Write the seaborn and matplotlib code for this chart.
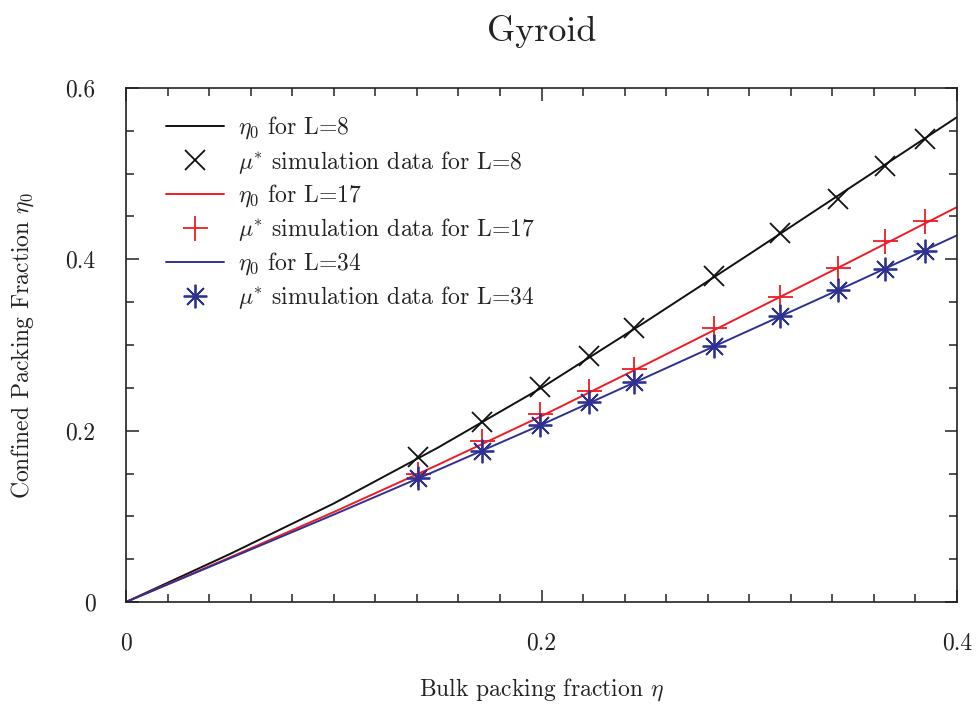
import matplotlib
matplotlib.use("Agg")
import matplotlib.pyplot as plt
from matplotlib.ticker import FixedLocator, MultipleLocator, FixedFormatter
import seaborn as sns
import pandas as pd

# Model curves eta_0(eta) for the three cell sizes
eta_curve = [0.0, 0.05, 0.10, 0.15, 0.20, 0.25, 0.30, 0.35, 0.40]
eta0_L8 = [0.0, 0.056, 0.115, 0.180, 0.250, 0.327, 0.406, 0.486, 0.566]
eta0_L17 = [0.0, 0.052, 0.105, 0.160, 0.217, 0.277, 0.338, 0.399, 0.461]
eta0_L34 = [0.0, 0.051, 0.102, 0.154, 0.207, 0.262, 0.317, 0.372, 0.428]

# mu* simulation data
eta_sim = [0.1406, 0.1714, 0.1993, 0.2229, 0.2445, 0.2830, 0.3148, 0.3427, 0.3653, 0.3846]
sim_L8 = [0.169, 0.210, 0.251, 0.287, 0.320, 0.381, 0.431, 0.470, 0.509, 0.540]
sim_L17 = [0.149, 0.188, 0.219, 0.246, 0.272, 0.320, 0.356, 0.390, 0.421, 0.445]
sim_L34 = [0.145, 0.176, 0.207, 0.233, 0.257, 0.299, 0.334, 0.364, 0.389, 0.410]

x_ticks = [0.0, 0.2, 0.4]
x_tick_labels = ["0", "0.2", "0.4"]
y_ticks = [0.0, 0.2, 0.4, 0.6]
y_tick_labels = ["0", "0.2", "0.4", "0.6"]

sns.set_theme(style="white")
plt.rcParams["font.family"] = ["cmr10", "DejaVu Serif"]
plt.rcParams["mathtext.fontset"] = "cm"
plt.rcParams["axes.formatter.use_mathtext"] = True
plt.rcParams["axes.unicode_minus"] = False

fig = plt.figure(figsize=(9.76, 7.09), dpi=100)
ax = fig.add_axes([126 / 976, 1 - 602 / 709, (957 - 126) / 976, (602 - 88) / 709])

black, red, blue = "#111111", "#ee1c24", "#2e3192"
star = (8, 2, 0)

series = [
    ("8", eta0_L8, sim_L8, black, "x", 15),
    ("17", eta0_L17, sim_L17, red, "+", 18),
    ("34", eta0_L34, sim_L34, blue, star, 17),
]

for L, curve, sim, col, mk, ms in series:
    dfc = pd.DataFrame({"eta": eta_curve, "eta0": curve})
    sns.lineplot(data=dfc, x="eta", y="eta0", ax=ax, color=col, lw=1.4,
                 sort=False, estimator=None, label=r"$\eta_0$ for L=" + L)
    dfs = pd.DataFrame({"eta": eta_sim, "eta0": sim})
    sns.lineplot(data=dfs, x="eta", y="eta0", ax=ax, color=col, linestyle="none",
                 marker=mk, markersize=ms, markeredgewidth=1.3, markeredgecolor=col,
                 sort=False, estimator=None,
                 label=r"$\mu^{*}$ simulation data for L=" + L)

ax.set_xlim(0, 0.4)
ax.set_ylim(0, 0.6)

ax.xaxis.set_major_locator(FixedLocator(x_ticks))
ax.xaxis.set_major_formatter(FixedFormatter(x_tick_labels))
ax.xaxis.set_minor_locator(MultipleLocator(0.02))
ax.yaxis.set_major_locator(FixedLocator(y_ticks))
ax.yaxis.set_major_formatter(FixedFormatter(y_tick_labels))
ax.yaxis.set_minor_locator(MultipleLocator(0.05))

ax.tick_params(which="both", direction="in", top=True, right=True,
               bottom=True, left=True, colors="#222222", labelsize=17)
ax.tick_params(which="major", length=9, width=1.1, pad=22)
ax.tick_params(which="minor", length=6, width=1.1)
for lab in ax.get_xticklabels() + ax.get_yticklabels():
    lab.set_color("#222222")

for sp in ax.spines.values():
    sp.set_color("#222222")
    sp.set_linewidth(1.2)
    sp.set_visible(True)

ax.set_xlabel(r"Bulk packing fraction $\eta$", fontsize=17, color="#222222")
ax.set_ylabel(r"Confined Packing Fraction $\eta_0$", fontsize=17, color="#222222")
ax.xaxis.set_label_coords(0.5, -0.171)
ax.xaxis.label.set_va("center")
ax.yaxis.set_label_coords(-0.125, 0.5)
ax.yaxis.label.set_va("center")

ax.set_title("Gyroid", fontsize=26, pad=34, color="#222222")

handles = list(ax.lines)
labels = [h.get_label() for h in handles]
leg = ax.legend(handles, labels, loc="upper left", bbox_to_anchor=(0.048, 0.948),
                frameon=False, fontsize=17, handlelength=2.45, handletextpad=0.6,
                labelspacing=0.3, borderpad=0, borderaxespad=0, numpoints=1)
for t in leg.get_texts():
    t.set_color("#222222")

fig.savefig("out.png", dpi=100, facecolor="white")
